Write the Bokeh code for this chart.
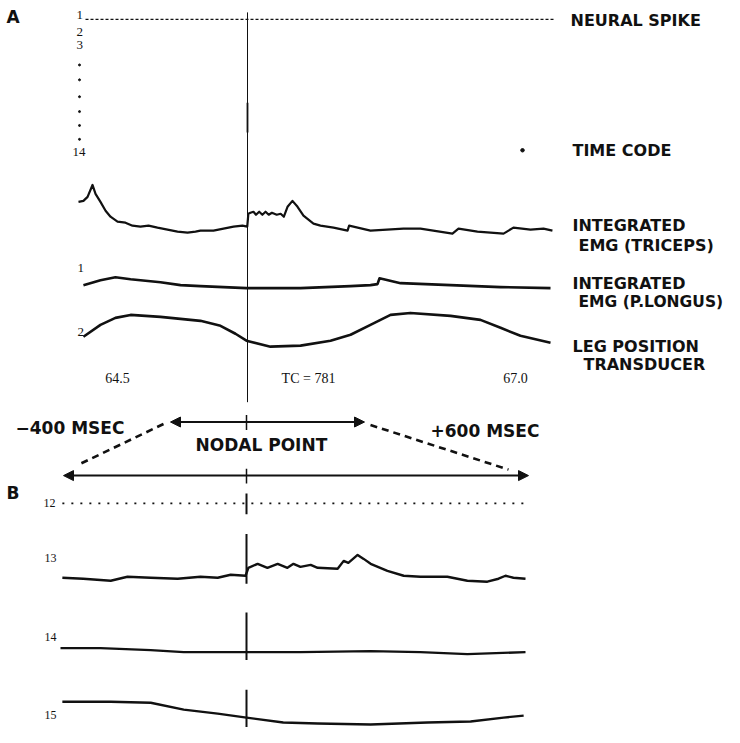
import numpy as np
from bokeh.plotting import figure
from bokeh.models import Range1d, Arrow, NormalHead
from bokeh.core.properties import value
from bokeh.embed import file_html
from bokeh.resources import INLINE

# ---------------- DATA ----------------
# Panel A: time in seconds (time code 64.5 .. 67.0), deflection in arbitrary units (up = positive)
neural_t = [64.299, 67.251]
timecode_t = [67.044]

tri_t = [64.255, 64.286, 64.312, 64.343, 64.362, 64.393, 64.425, 64.456, 64.500, 64.550,
         64.594, 64.644, 64.695, 64.751, 64.814, 64.877, 64.940, 64.990, 65.021, 65.103,
         65.166, 65.229, 65.285, 65.315, 65.322, 65.335, 65.354, 65.370, 65.390, 65.410,
         65.430, 65.450, 65.470, 65.500, 65.525, 65.545, 65.568, 65.599, 65.631, 65.668,
         65.731, 65.775, 65.857, 65.945, 65.955, 66.089, 66.296, 66.403, 66.604, 66.642,
         66.761, 66.925, 66.987, 67.094, 67.176, 67.232]
tri_d = [27, 28, 32, 44, 35, 27, 18, 12, 7, 6,
         3, 2, 3, 1, -1, -3, -4, -3, -2, -2,
         0, 2, 3, 2, 15, 16, 17, 14, 17, 14,
         17, 14, 16, 14, 15, 12, 22, 28, 22, 13,
         5, 3, 1, -2, 3, -2, 0, 0, -5, 0,
         -3, -5, 1, -1, 0, -2]

pl_t = [64.286, 64.393, 64.487, 64.582, 64.770, 64.896, 65.021, 65.310, 65.650, 65.964,
        66.089, 66.133, 66.146, 66.278, 66.592, 66.906, 67.220]
pl_d = [3, 8, 11, 9, 6, 3, 2, 0, 0, 2, 3, 4, 10, 5, 3, 1, 0]

leg_t = [64.286, 64.393, 64.487, 64.582, 64.770, 65.021, 65.147, 65.241, 65.310, 65.461,
         65.650, 65.838, 65.964, 66.089, 66.215, 66.340, 66.592, 66.780, 66.906, 67.031, 67.220]
leg_d = [1, 13, 20, 23, 21, 17, 12, 4, -3, -9, -8, -3, 3, 13, 23, 25, 22, 18, 10, 2, -5]

# Panel B: time in ms relative to the nodal point
row12_t = [-396, 600]

b13_t = [-396, -351, -292, -256, -206, -148, -99, -62, -34, -2, 4, 24, 45, 67, 88, 101, 116,
         138, 153, 196, 209, 219, 239, 252, 267, 303, 338, 374, 432, 475, 518, 542, 557, 574, 600]
b13_d = [0, -1, -3, 1, 0, -1, 1, 0, 3, 2, 10, 14, 10, 14, 10, 14, 11,
         13, 10, 9, 17, 15, 23, 19, 14, 7, 2, 1, 1, -3, -4, -1, 2, 0, -1]

b14_t = [-400, -314, -206, -135, 0, 116, 267, 374, 475, 600]
b14_d = [3, 3, 1, -1, -1, -1, 0, -1, -3, -1]

b15_t = [-396, -292, -206, -135, -62, 0, 79, 153, 267, 389, 482, 553, 596]
b15_d = [13, 13, 12, 5, 1, -3, -8, -9, -10, -8, -7, -3, -1]

# Text
right_labels = ["NEURAL SPIKE", "TIME CODE", "INTEGRATED", "EMG (TRICEPS)",
                "INTEGRATED", "LEG POSITION", "TRANSDUCER"]
tc_labels = ["64.5", "TC = 781", "67.0"]
chanA_labels = ["1", "2", "3", "14", "1", "2"]
chanB_labels = ["12", "13", "14", "15"]
window_labels = ["\u2212400 MSEC", "+600 MSEC", "NODAL POINT"]

# ---------------- LAYOUT ----------------
W, H = 724, 727
p = figure(width=W, height=H, x_range=Range1d(0, W), y_range=Range1d(733, 0),
           x_axis_type=None, y_axis_type=None, toolbar_location=None,
           output_backend="svg", min_border=0)
p.outline_line_color = None
p.background_fill_color = "white"
# time scales: panel A 159.2 px per second with 64.5 s at x=117; panel B 0.465 px per ms with 0 at x=246
p.extra_x_ranges = {"tA": Range1d(64.5 + (0 - 117) / 159.2, 64.5 + (W - 117) / 159.2),
                    "tB": Range1d((0 - 246) / 0.465, (W - 246) / 0.465)}

INK = "#111111"

def trace(t, d, base, rng, w=2.4):
    y = base - np.asarray(d, dtype=float)
    p.line(t, y, x_range_name=rng, line_color=INK, line_width=w, line_join="round")

# Panel A
p.line(neural_t, [19, 19], x_range_name="tA", line_color=INK, line_width=1.3, line_dash="3 2")
p.scatter(timecode_t, [151], x_range_name="tA", size=3.5, color=INK)
trace(tri_t, tri_d, 230, "tA", 2.2)
trace(pl_t, pl_d, 290, "tA", 2.6)
trace(leg_t, leg_d, 340, "tA", 2.6)

# nodal vertical marker panel A
p.segment(x0=[247], y0=[12], x1=[247], y1=[405], line_color=INK, line_width=1)
p.segment(x0=[247], y0=[103], x1=[247], y1=[133], line_color=INK, line_width=1.8)

# channel ellipsis dots
p.scatter([79] * 6, [65, 80, 97, 112, 126, 140], size=2, color=INK)

# Panel B
p.line(row12_t, [507, 507], x_range_name="tB", line_color=INK, line_width=1.6, line_dash="2 7")
trace(b13_t, b13_d, 582, "tB", 2.4)
trace(b14_t, b14_d, 656, "tB", 2.4)
trace(b15_t, b15_d, 720, "tB", 2.4)
p.segment(x0=[246] * 4, y0=[497, 538, 617, 695], x1=[246] * 4, y1=[518, 588, 665, 743],
          line_color=INK, line_width=2)

# window arrows
for xs, xe, y in [(170, 364, 425), (63, 528, 479)]:
    p.add_layout(Arrow(start=NormalHead(size=10, fill_color=INK, line_color=INK),
                       end=NormalHead(size=10, fill_color=INK, line_color=INK),
                       x_start=xs, y_start=y, x_end=xe, y_end=y,
                       line_color=INK, line_width=2))
p.segment(x0=[246, 246], y0=[418, 472], x1=[246, 246], y1=[433, 487], line_color=INK, line_width=1.5)
p.segment(x0=[163, 370], y0=[427, 428], x1=[78, 508], y1=[468, 473],
          line_color=INK, line_width=2.6, line_dash="7 5")

# ---------------- TEXT ----------------
bold = dict(text_font=value("DejaVu Sans"), text_font_style="bold", text_color=INK,
            text_baseline="middle", text_align="left")
p.text(x=[570, 572, 572, 578, 572, 572, 583], y=[20, 151, 227, 247, 285, 349, 367],
       text=right_labels, text_font_size="16px", **bold)
p.text(x=[578], y=[304], text=["EMG (P.LONGUS)"], text_font_size="15.5px", **bold)
p.text(x=[15, 430, 195], y=[431, 434, 448], text=window_labels, text_font_size="17px", **bold)
p.text(x=[6, 6], y=[17, 497], text=["A", "B"], text_font_size="17px", **bold)

serif = dict(text_font=value("Liberation Serif"), text_color=INK, text_baseline="middle")
p.text(x=[117, 308, 515], y=[381, 381, 381], text=tc_labels, text_font_size="14px",
       text_align="center", **serif)
p.text(x=[76, 76, 76, 72, 77, 77], y=[15, 32, 45, 153, 270, 334], text=chanA_labels,
       text_font_size="13px", text_align="left", **serif)
p.text(x=[43, 44, 44, 44], y=[507, 562, 642, 720], text=chanB_labels,
       text_font_size="12px", text_align="left", **serif)

open("out.html", "w").write(file_html(p, INLINE))
